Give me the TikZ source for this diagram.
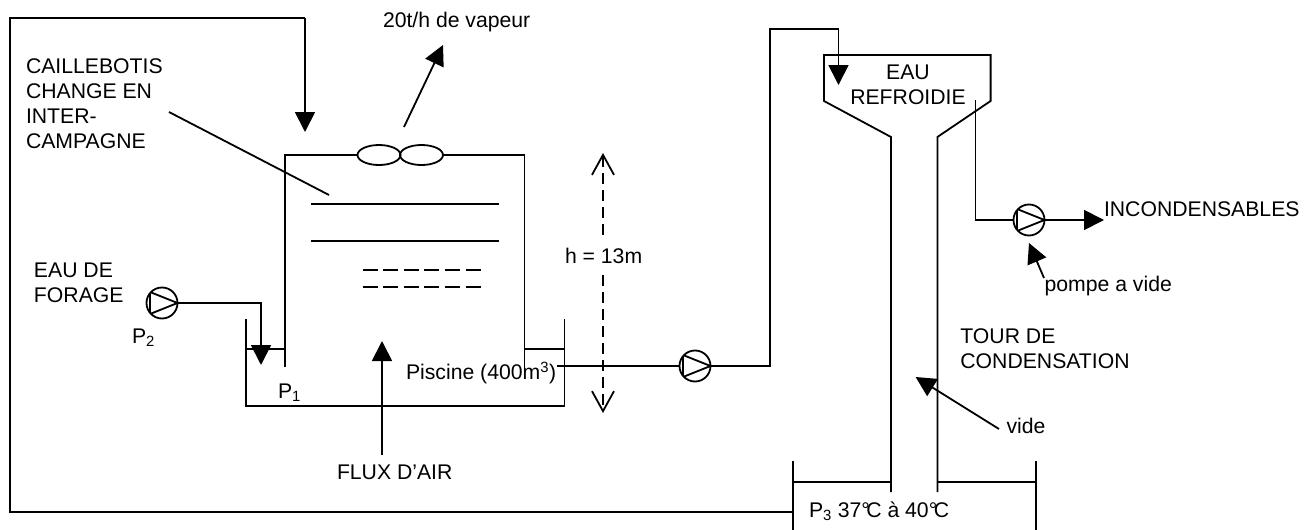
\documentclass[tikz,border=0pt]{standalone}
\usepackage{fontspec}
\setmainfont{Liberation Sans}
\newcommand{\degc}{°\kern-3.5pt C}
\usetikzlibrary{arrows.meta,shapes.geometric}
\begin{document}
\begin{tikzpicture}[x=1pt,y=-1pt,inner sep=0pt,outer sep=0pt,line width=1.8pt,
>={Triangle[length=20pt,width=20pt]},
label/.style={font=\fontsize{21.2}{25}\selectfont,align=left},
pump/.style={draw,circle,minimum size=31pt,path picture={
  \draw ([shift={(-12,-11)}]path picture bounding box.center) -- ([shift={(15.5,0)}]path picture bounding box.center)
  -- ([shift={(-12,11)}]path picture bounding box.center) -- cycle;}},
fan/.style={draw,ellipse,minimum width=43pt,minimum height=20pt}]
\useasboundingbox (0,0) rectangle (1315,530);

\draw (379,155) node[fan] (fanL) {};
\draw (421.5,155) node[fan] (fanR) {};
\draw (162,303) node[pump] (pumpF) {};
\draw (695,366) node[pump] (pumpC) {};
\draw (1029,220) node[pump] (pumpV) {};

% tank and pool
\draw (285,367) -- (285,155) -- (fanL.180);
\draw (fanR.0) -- (524.5,155) -- (524.5,368);
\draw (246,319) -- (246,406) -- (564.5,406) -- (564.5,319);
\draw (246,349) -- (285,349);
\draw (524.5,349) -- (564.5,349);
\draw (311,204) -- (499,204);
\draw (311,241) -- (499,241);
\draw[dash pattern=on 15pt off 5.6pt] (362.5,270) -- (481,270);
\draw[dash pattern=on 15pt off 5.6pt] (362.5,287) -- (481,287);

% condensing tower
\draw (891,492) -- (891,137) -- (824,101) -- (824,55) -- (990.6,55) -- (990.6,101) -- (937.4,137) -- (937.4,492);
\draw (793,530) -- (793,461);
\draw (793,482) -- (891,482);
\draw (937.4,482) -- (1036,482);
\draw (1036,461) -- (1036,530);

% pipes
\draw[->] (pumpF.0) -| (261,365) coordinate (forageIn);
\draw (556.5,366) coordinate (poolOut) -- (pumpC.180);
\draw[->] (pumpC.0) -| (770,29) -| (838.5,85) coordinate (towerIn);
\draw (793,512) coordinate (basinOut) -- (10,512) |- (305,18) coordinate (returnTop);
\draw[->] (returnTop) -- (305,132) coordinate (returnIn);
\draw (975.5,100) coordinate (ventTop) |- (pumpV.180);
\draw[->] (pumpV.0) -- (1104,220) coordinate (ventOut);

% labels
\draw (383,22) node[label,anchor=west] (vapeur) {20t/h de vapeur};
\draw (26,104) node[label,anchor=west] (grid) {CAILLEBOTIS\\CHANGE EN\\INTER-\\CAMPAGNE};
\draw (34,282.5) node[label,anchor=west] (forage) {EAU DE\\FORAGE};
\draw (132,338) node[label,anchor=west] (ptwo) {P\textsubscript{2}};
\draw (278,393) node[label,anchor=west] (pone) {P\textsubscript{1}};
\draw (406,373) node[label,anchor=west] (piscine) {Piscine (400m\textsuperscript{3})};
\draw (337,472) node[label,anchor=west] (air) {FLUX D’AIR};
\draw (908,84.5) node[label,align=center] (froid) {EAU\\REFROIDIE};
\draw (1104,209) node[label,anchor=west] (incond) {INCONDENSABLES};
\draw (1044.6,286) node[label,anchor=west] (vacuum) {pompe a vide};
\draw (960.4,349) node[label,anchor=west] (tower) {TOUR DE\\CONDENSATION};
\draw (1006.5,426) node[label,anchor=west] (vide) {vide};
\draw (809,511) node[label,anchor=west] (pthree) {P\textsubscript{3} 37\degc{} à 40\degc};

% leaders
\draw[->] (404,127) coordinate (fanTop) -- (443,45) coordinate (vapeurEnd);
\draw (169,112) coordinate (gridStart) -- (329,195) coordinate (gridEnd);
\draw[->] (382,455) coordinate (airStart) -- (382,341) coordinate (airEnd);
\draw[->] (1044,278) coordinate (vacuumStart) -- (1029,243) coordinate (vacuumEnd);
\draw[->] (999,429) coordinate (videStart) -- (915.6,377) coordinate (videEnd);
\draw[dash pattern=on 11pt off 6pt,{Straight Barb[length=20pt,width=22pt]}-{Straight Barb[length=20pt,width=22pt]}] (603,153) coordinate (hTop) -- (603,413) coordinate (hBottom);
\draw (565,256) node[label,anchor=west,fill=white,inner ysep=8pt] (height) {h = 13m};
\end{tikzpicture}
\end{document}
